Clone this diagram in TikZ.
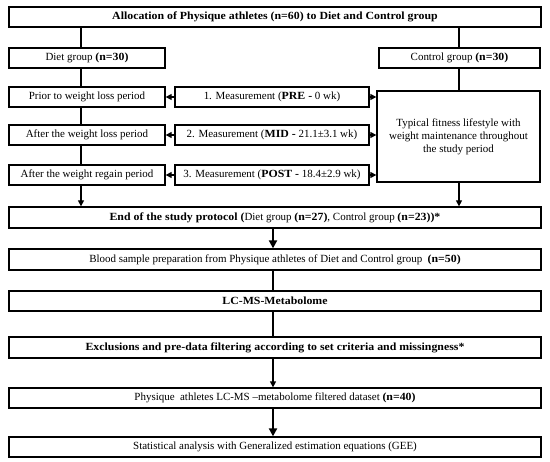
\documentclass[tikz,border=0pt]{standalone}
\usepackage{fontspec}
\setmainfont{Liberation Serif}[BoldFeatures={FakeStretch=1.08}]
\usetikzlibrary{arrows.meta}
\begin{document}
\begin{tikzpicture}[x=1bp, y=-1bp, font=\fontsize{11}{13}\selectfont,
    box/.style={draw, line width=1.3bp, minimum height=20bp, inner sep=0pt, align=center},
    link/.style={line width=1.3bp},
    arr/.style={line width=1.3bp, -{Triangle[length=6bp, width=6bp]}},
    bigarr/.style={line width=2.2bp, -{Triangle[length=8bp, width=8bp]}}]
    \useasboundingbox (0,0) rectangle (550,462);
    % Columns for the connectors
    \coordinate (lcol) at (81,0);
    \coordinate (rcol) at (459,0);
    \coordinate (mcol) at (273,0);

    % Top box
    \node[box, minimum width=532bp] (alloc) at (275,17) {\textbf{Allocation of Physique athletes (n=60) to Diet and Control group}};

    % Diet group column
    \node[box, minimum width=156bp] (diet) at (87,58) {Diet group \textbf{(n=30)}};
    \node[box, minimum width=156bp] (prior) at (87,97) {Prior to weight loss period};
    \node[box, minimum width=156bp] (loss) at (87,135) {After the weight loss period};
    \node[box, minimum width=156bp] (regain) at (87,175) {After the weight regain period};

    % Measurements
    \node[box, minimum width=194bp] (meas1) at (272,97) {1. Measurement (\textbf{PRE -} 0 wk)};
    \node[box, minimum width=194bp] (meas2) at (272,135) {2. Measurement (\textbf{MID -} 21.1±3.1 wk)};
    \node[box, minimum width=194bp] (meas3) at (272,175) {3. Measurement (\textbf{POST -} 18.4±2.9 wk)};

    % Control group column
    \node[box, minimum width=161bp] (control) at (459.5,58) {Control group \textbf{(n=30)}};
    \node[box, minimum width=163bp, minimum height=91bp] (typical) at (458.5,136.5) {Typical fitness lifestyle with\\weight maintenance throughout\\the study period};

    % Lower boxes
    \node[box, minimum width=532bp, minimum height=21bp] (end) at (275,217.5) {\textbf{End of the study protocol (}Diet group \textbf{(n=27)}, Control group \textbf{(n=23))*}};
    \node[box, minimum width=532bp, minimum height=21bp] (blood) at (275,259.5) {Blood sample preparation from Physique athletes of Diet and Control group \ \textbf{(n=50)}};
    \node[box, minimum width=532bp] (lcms) at (275,301) {\textbf{LC-MS-Metabolome}};
    \node[box, minimum width=532bp, minimum height=21bp] (excl) at (275,347.5) {\textbf{Exclusions and pre-data filtering according to set criteria and missingness*}};
    \node[box, minimum width=532bp] (phys) at (275,398) {Physique \ athletes LC-MS –metabolome filtered dataset \textbf{(n=40)}};
    \node[box, minimum width=532bp] (stat) at (275,447) {Statistical analysis with Generalized estimation equations (GEE)};

    % Left and right chains
    \draw[link] (alloc.south -| lcol) -- (diet.north -| lcol);
    \draw[link] (diet.south -| lcol) -- (prior.north -| lcol);
    \draw[link] (prior.south -| lcol) -- (loss.north -| lcol);
    \draw[link] (loss.south -| lcol) -- (regain.north -| lcol);
    \draw[arr] (regain.south -| lcol) -- (end.north -| lcol);
    \draw[link] (alloc.south -| rcol) -- (control.north -| rcol);
    \draw[link] (control.south -| rcol) -- (typical.north -| rcol);
    \draw[arr] (typical.south -| rcol) -- (end.north -| rcol);

    % Measurement arrows
    \foreach \m/\g in {meas1/prior, meas2/loss, meas3/regain} {
        \draw[arr] (\m.west) -- (\g.east);
        \draw[arr] (\m.east) -- (\m.east -| typical.west);
    }

    % Middle chain
    \draw[bigarr] (end.south -| mcol) -- (blood.north -| mcol);
    \draw[link] (blood.south -| mcol) -- (lcms.north -| mcol);
    \draw[link] (lcms.south -| mcol) -- (excl.north -| mcol);
    \draw[arr] (excl.south -| mcol) -- (phys.north -| mcol);
    \draw[bigarr] (phys.south -| mcol) -- (stat.north -| mcol);
\end{tikzpicture}
\end{document}
